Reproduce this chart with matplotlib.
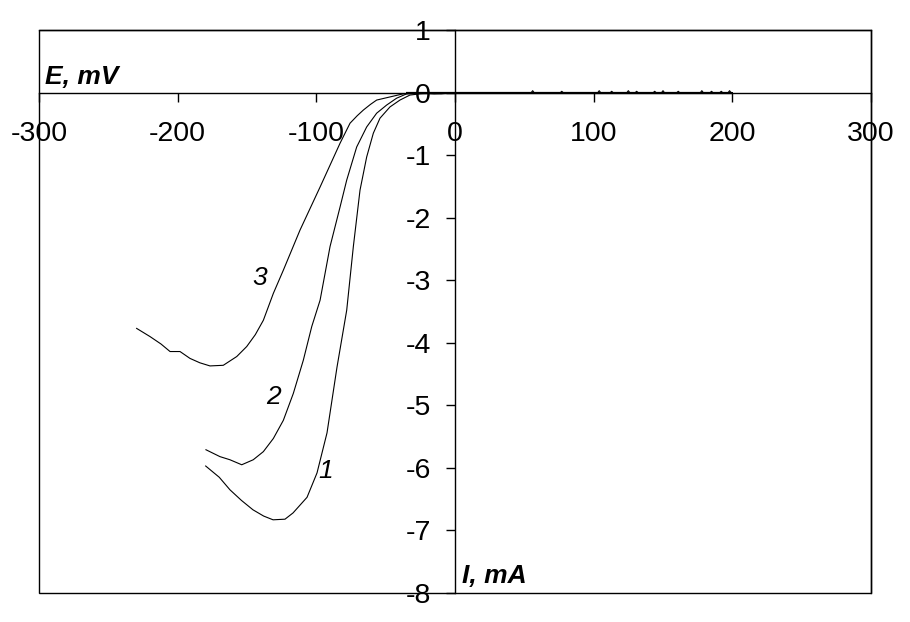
import matplotlib
matplotlib.use("Agg")
import matplotlib.pyplot as plt
from matplotlib.patches import Rectangle

plt.rcParams['font.family'] = ['Liberation Sans', 'DejaVu Sans']

# Curve 1
i1 = [-179.8, -170, -162.3, -154, -145.7, -138, -131.2, -122.6, -116.8, -106.7, -99.5,
      -92.3, -85.1, -78.1, -73.3, -68.5, -63.7, -58.9, -54.1, -46.9, -39.7, -32.5,
      -25, -15, 0, 20, 55, 56, 57, 100, 103, 104, 105, 124, 125, 126, 149, 150, 151,
      177, 178, 179, 197, 198, 199, 200]
e1 = [-5.97, -6.15, -6.35, -6.52, -6.67, -6.77, -6.83, -6.82, -6.72, -6.47, -6.08,
      -5.44, -4.39, -3.48, -2.46, -1.56, -1.03, -0.65, -0.41, -0.23, -0.12, -0.04,
      -0.02, -0.01, 0.0, 0.0, 0.0, 0.03, 0.0, 0.0, 0.0, 0.03, 0.0, 0.0, 0.03, 0.0, 0.0, 0.03, 0.0,
      0.0, 0.03, 0.0, 0.0, 0.03, 0.0, 0.0]

# Curve 2
i2 = [-179.6, -169.5, -162.3, -153.8, -145.5, -138.2, -131.0, -123.8, -116.6, -109.4,
      -103.3, -97.3, -90.1, -82.9, -78.1, -70.9, -63.7, -56.5, -49.3, -42.1, -34.8,
      -25, -10, 0, 30, 76, 77, 78, 112, 113, 114, 130, 131, 132, 160, 161, 162, 184, 185, 186, 200]
e2 = [-5.71, -5.82, -5.87, -5.95, -5.87, -5.74, -5.53, -5.24, -4.81, -4.28,
      -3.74, -3.32, -2.46, -1.83, -1.40, -0.87, -0.55, -0.33, -0.20, -0.09, -0.02,
      -0.01, -0.02, 0.0, 0.0, 0.0, 0.02, 0.0, 0.0, 0.02, 0.0, 0.0, 0.02, 0.0, 0.0, 0.02, 0.0,
      0.0, 0.02, 0.0, 0.0]

# Curve 3
i3 = [-229.6, -220.0, -212, -205.5, -198.3, -191.1, -184, -176.7, -167.1, -157.4,
      -150.2, -144, -138.2, -131.0, -123.8, -111.8, -97.3, -82.9, -75.7, -70.5, -66.1, -61, -56.5,
      -46.9, -37.3, -28, -15, 0, 40, 143, 144, 145, 191, 192, 193, 200]
e3 = [-3.77, -3.90, -4.02, -4.14, -4.14, -4.25, -4.32, -4.37, -4.36, -4.22,
      -4.06, -3.87, -3.64, -3.21, -2.84, -2.20, -1.51, -0.81, -0.49, -0.37, -0.28, -0.19, -0.12,
      -0.07, -0.02, -0.01, -0.02, 0.0, 0.0, 0.0, 0.02, 0.0, 0.0, 0.02, 0.0, 0.0]

x_ticks = [-300, -200, -100, 0, 100, 200, 300]
y_ticks = [1, 0, -1, -2, -3, -4, -5, -6, -7, -8]

curve_labels = ['1', '2', '3']
label_pos = [(-93, -6.05), (-131, -4.87), (-141, -2.96)]

fig = plt.figure(figsize=(9.1, 6.22), dpi=100)
ax = fig.add_axes([39/910, 1 - 593/622, 832/910, 563/622])

for xs, ys in [(i1, e1), (i2, e2), (i3, e3)]:
    ax.plot(xs, ys, color='black', lw=0.8)
ax.plot([-35, 200], [0, 0], color='black', lw=1.6, solid_capstyle='butt')

ax.set_xlim(-300, 300)
ax.set_ylim(-8, 1)

ax.spines['left'].set_position(('data', 0))
ax.spines['bottom'].set_position(('data', 0))
for s in ['left', 'bottom', 'top', 'right']:
    ax.spines[s].set_linewidth(1.0)
ax.add_patch(Rectangle((0, 0), 1, 1, transform=ax.transAxes, fill=False,
                       edgecolor='black', lw=1.0, clip_on=False))

ax.set_xticks(x_ticks)
ax.set_xticklabels([str(v) for v in x_ticks])
ax.set_yticks(y_ticks)
ax.set_yticklabels([str(v) for v in y_ticks])
ax.tick_params(axis='x', direction='out', length=6.5, width=1, pad=14, labelsize=20.5)
ax.tick_params(axis='y', direction='out', length=6.5, width=1, pad=11, labelsize=20.5)

for t, (x, y) in zip(curve_labels, label_pos):
    ax.text(x, y, t, fontsize=19, style='italic', ha='center', va='center')

ax.text(45/910, 1 - 77/622, 'E, mV', transform=fig.transFigure, fontsize=19,
        fontweight='bold', style='italic', ha='left', va='center')
ax.text(462/910, 1 - 576/622, 'I, mA', transform=fig.transFigure, fontsize=19,
        fontweight='bold', style='italic', ha='left', va='center')

fig.savefig('out.png', dpi=100)
